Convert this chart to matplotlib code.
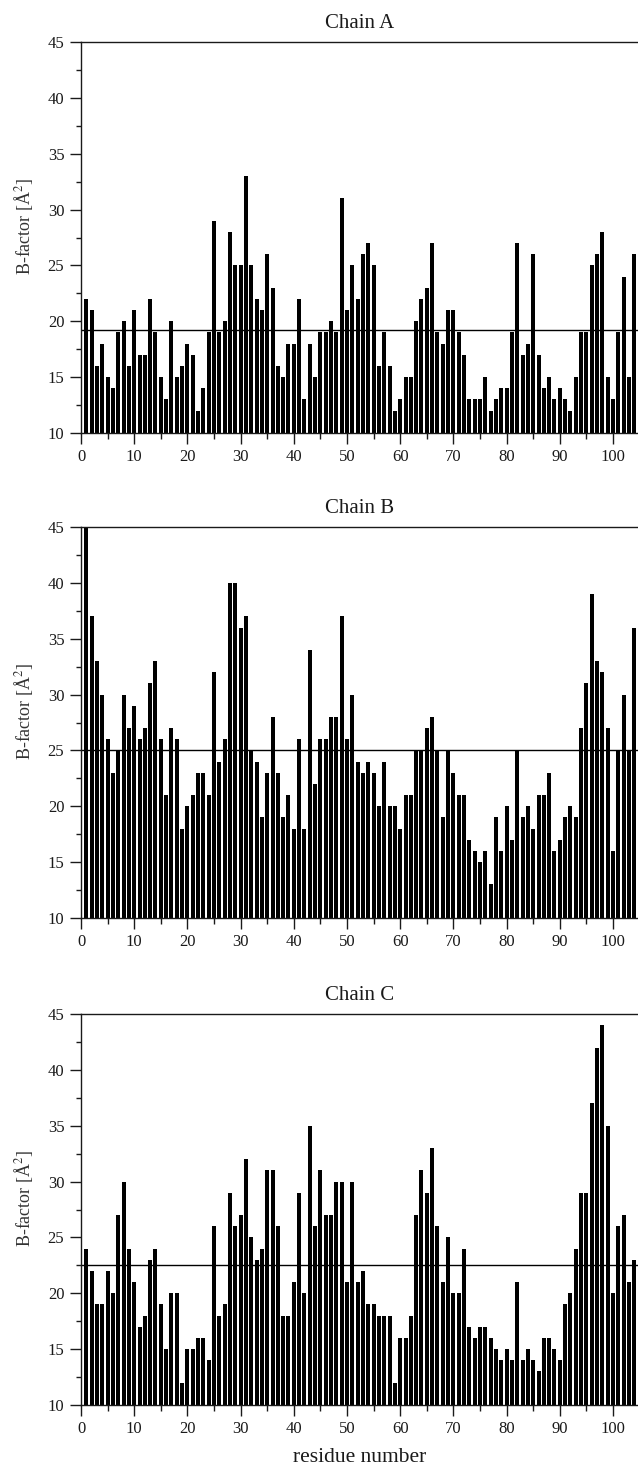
import matplotlib
matplotlib.use("Agg")
import matplotlib.pyplot as plt
from matplotlib.ticker import MultipleLocator
import numpy as np

plt.rcParams['font.family'] = ['Liberation Serif', 'DejaVu Serif']
plt.rcParams['mathtext.fontset'] = 'stix'

# B-factors per residue
residues = np.arange(1, 105)

chain_a = [22, 21, 16, 18, 15, 14, 19, 20, 16, 21,
           17, 17, 22, 19, 15, 13, 20, 15, 16, 18,
           17, 12, 14, 19, 29, 19, 20, 28, 25, 25,
           33, 25, 22, 21, 26, 23, 16, 15, 18, 18,
           22, 13, 18, 15, 19, 19, 20, 19, 31, 21,
           25, 22, 26, 27, 25, 16, 19, 16, 12, 13,
           15, 15, 20, 22, 23, 27, 19, 18, 21, 21,
           19, 17, 13, 13, 13, 15, 12, 13, 14, 14,
           19, 27, 17, 18, 26, 17, 14, 15, 13, 14,
           13, 12, 15, 19, 19, 25, 26, 28, 15, 13,
           19, 24, 15, 26]

chain_b = [45, 37, 33, 30, 26, 23, 25, 30, 27, 29,
           26, 27, 31, 33, 26, 21, 27, 26, 18, 20,
           21, 23, 23, 21, 32, 24, 26, 40, 40, 36,
           37, 25, 24, 19, 23, 28, 23, 19, 21, 18,
           26, 18, 34, 22, 26, 26, 28, 28, 37, 26,
           30, 24, 23, 24, 23, 20, 24, 20, 20, 18,
           21, 21, 25, 25, 27, 28, 25, 19, 25, 23,
           21, 21, 17, 16, 15, 16, 13, 19, 16, 20,
           17, 25, 19, 20, 18, 21, 21, 23, 16, 17,
           19, 20, 19, 27, 31, 39, 33, 32, 27, 16,
           25, 30, 25, 36]

chain_c = [24, 22, 19, 19, 22, 20, 27, 30, 24, 21,
           17, 18, 23, 24, 19, 15, 20, 20, 12, 15,
           15, 16, 16, 14, 26, 18, 19, 29, 26, 27,
           32, 25, 23, 24, 31, 31, 26, 18, 18, 21,
           29, 20, 35, 26, 31, 27, 27, 30, 30, 21,
           30, 21, 22, 19, 19, 18, 18, 18, 12, 16,
           16, 18, 27, 31, 29, 33, 26, 21, 25, 20,
           20, 24, 17, 16, 17, 17, 16, 15, 14, 15,
           14, 21, 14, 15, 14, 13, 16, 16, 15, 14,
           19, 20, 24, 29, 29, 37, 42, 44, 35, 20,
           26, 27, 21, 23]

chain_names = ['Chain A', 'Chain B', 'Chain C']
chain_means = [19.2, 25.0, 22.5]

W, H = 638, 1471
fig = plt.figure(figsize=(W / 100, H / 100), dpi=100)

left = 81 / W
width = 1 - left
axes_bottoms_px = [433, 918, 1405]
axes_height_px = 391

ink = '#1a1a1a'

for i, (name, vals, mean) in enumerate(zip(chain_names, [chain_a, chain_b, chain_c], chain_means)):
    bottom = 1 - axes_bottoms_px[i] / H
    ax = fig.add_axes([left, bottom, width, axes_height_px / H])
    ax.bar(residues, vals, width=0.75, color='black', linewidth=0)
    ax.axhline(mean, color='black', lw=1.0)

    ax.set_xlim(0, (W - 81) / 5.32)
    ax.set_ylim(10, 45)
    ax.xaxis.set_major_locator(MultipleLocator(10))
    ax.xaxis.set_minor_locator(MultipleLocator(5))
    ax.yaxis.set_major_locator(MultipleLocator(5))
    ax.yaxis.set_minor_locator(MultipleLocator(2.5))

    ax.tick_params(axis='both', which='major', direction='out', length=8,
                   width=1.0, labelsize=12, colors=ink)
    ax.tick_params(axis='y', which='major', pad=4)
    ax.tick_params(axis='x', which='major', pad=3.5)
    ax.tick_params(axis='y', which='minor', direction='out', length=3.5,
                   width=1.0, colors=ink)
    ax.tick_params(axis='x', which='minor', direction='out', length=4.3,
                   width=1.0, colors=ink)
    ax.spines['right'].set_visible(False)
    for s in ['left', 'top', 'bottom']:
        ax.spines[s].set_linewidth(1.0)
        ax.spines[s].set_color(ink)

    ax.set_title(name, fontsize=15, color=ink, pad=10)
    ax.set_ylabel('B-factor [Å$^2$]', fontsize=13, color='#333333')
    ax.yaxis.set_label_coords(-0.083, 0.53)
    if i == 2:
        ax.set_xlabel('residue number', fontsize=15.5, color=ink, labelpad=8)

fig.savefig('out.png', dpi=100)
